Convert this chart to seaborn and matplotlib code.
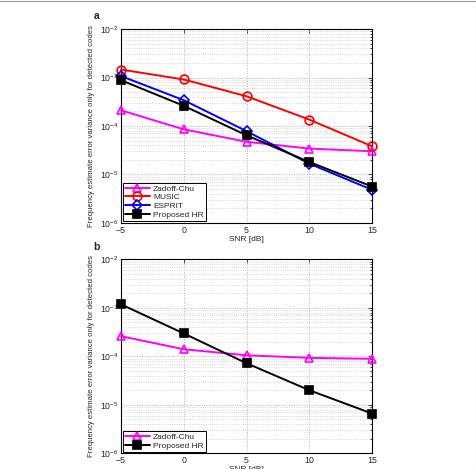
import numpy as np
import pandas as pd
import seaborn as sns
from matplotlib import pyplot as plt
from matplotlib.ticker import LogLocator, NullFormatter
from matplotlib.lines import Line2D

snr = [-5, 0, 5, 10, 15]

# panel a
zc_a = [2.1e-4, 8.5e-5, 4.7e-5, 3.4e-5, 3.0e-5]
music_a = [1.46e-3, 9.1e-4, 4.1e-4, 1.35e-4, 3.8e-5]
esprit_a = [1.07e-3, 3.4e-4, 7.8e-5, 1.66e-5, 4.8e-6]
hr_a = [8.8e-4, 2.6e-4, 6.4e-5, 1.8e-5, 5.6e-6]

# panel b
zc_b = [2.6e-4, 1.4e-4, 1.05e-4, 9.3e-5, 8.9e-5]
hr_b = [1.18e-3, 2.96e-4, 7.2e-5, 2.0e-5, 6.6e-6]

colors = {'Zadoff-Chu': '#ff00ff', 'MUSIC': '#ff0000', 'ESPRIT': '#0000ff', 'Proposed HR': '#000000'}
markers = {'Zadoff-Chu': '^', 'MUSIC': 'o', 'ESPRIT': 'D', 'Proposed HR': 's'}
msize = {'Zadoff-Chu': 6.3, 'MUSIC': 6.3, 'ESPRIT': 4.8, 'Proposed HR': 5.8}


def long_df(series):
    rows = []
    for name, vals in series.items():
        for x, v in zip(snr, vals):
            rows.append({'SNR': x, 'var': v, 'method': name})
    return pd.DataFrame(rows)


sns.set_style("white")
plt.rcParams['font.family'] = ['Liberation Sans', 'DejaVu Sans']

fig = plt.figure(figsize=(4.77, 4.69), dpi=100)
ax_a = fig.add_axes([0.2537, 0.525, 0.5263, 0.413])
ax_b = fig.add_axes([0.2537, 0.0335, 0.5263, 0.4135])

panels = [
    (ax_a, {'Zadoff-Chu': zc_a, 'MUSIC': music_a, 'ESPRIT': esprit_a, 'Proposed HR': hr_a}, 'a'),
    (ax_b, {'Zadoff-Chu': zc_b, 'Proposed HR': hr_b}, 'b'),
]

for ax, series, tag in panels:
    df = long_df(series)
    for name in series:
        sub = df[df['method'] == name]
        filled = name == 'Proposed HR'
        sns.lineplot(data=sub, x='SNR', y='var', ax=ax, color=colors[name],
                     marker=markers[name], markersize=msize[name], linewidth=1.4,
                     markerfacecolor=colors[name] if filled else 'none',
                     markeredgecolor=colors[name], markeredgewidth=1.2,
                     legend=False, clip_on=False, zorder=3)
    ax.set_yscale('log')
    ax.set_ylim(1e-6, 1e-2)
    ax.set_xlim(-5, 15)
    ax.set_xticks(snr)
    ax.yaxis.set_major_locator(LogLocator(base=10, numticks=10))
    ax.yaxis.set_minor_locator(LogLocator(base=10, subs=np.arange(2, 10), numticks=10))
    ax.yaxis.set_minor_formatter(NullFormatter())
    ax.grid(True, which='major', axis='both', linestyle=':', color='#b0b0b0', linewidth=0.7)
    ax.grid(True, which='minor', axis='y', linestyle=':', color='#c8c8c8', linewidth=0.6)
    ax.tick_params(axis='both', which='both', direction='in', labelsize=6.3,
                   top=True, right=True, length=3, width=0.6, pad=2)
    ax.tick_params(axis='both', which='minor', length=1.5)
    for s in ax.spines.values():
        s.set_color('black')
        s.set_linewidth(0.8)
    ax.set_xlabel('SNR [dB]', fontsize=6, labelpad=1)
    ax.set_ylabel('Frequency estimate error variance only for detected codes', fontsize=5.6, labelpad=3)
    handles = [Line2D([], [], color=colors[n], marker=markers[n], linewidth=1.4,
                      markersize=msize[n],
                      markerfacecolor=colors[n] if n == 'Proposed HR' else 'none',
                      markeredgewidth=1.2) for n in series]
    leg = ax.legend(handles, list(series), loc='lower left', fontsize=6, frameon=True,
                    fancybox=False, edgecolor='black', framealpha=1, borderpad=0.25,
                    labelspacing=0.12, handlelength=3.0, handletextpad=0.4,
                    borderaxespad=0.2)
    leg.get_frame().set_linewidth(0.7)
    ax.text(-0.11, 1.04, tag, transform=ax.transAxes, fontsize=7.5, fontweight='bold',
            ha='left', va='bottom')

# outer frame lines (top and right)
fig.add_artist(Line2D([0, 0.997], [0.997, 0.997], transform=fig.transFigure, color='#999999', linewidth=0.8))
fig.add_artist(Line2D([0.997, 0.997], [0, 0.997], transform=fig.transFigure, color='#999999', linewidth=0.8))

plt.savefig('out.png', dpi=100)
plt.close()
